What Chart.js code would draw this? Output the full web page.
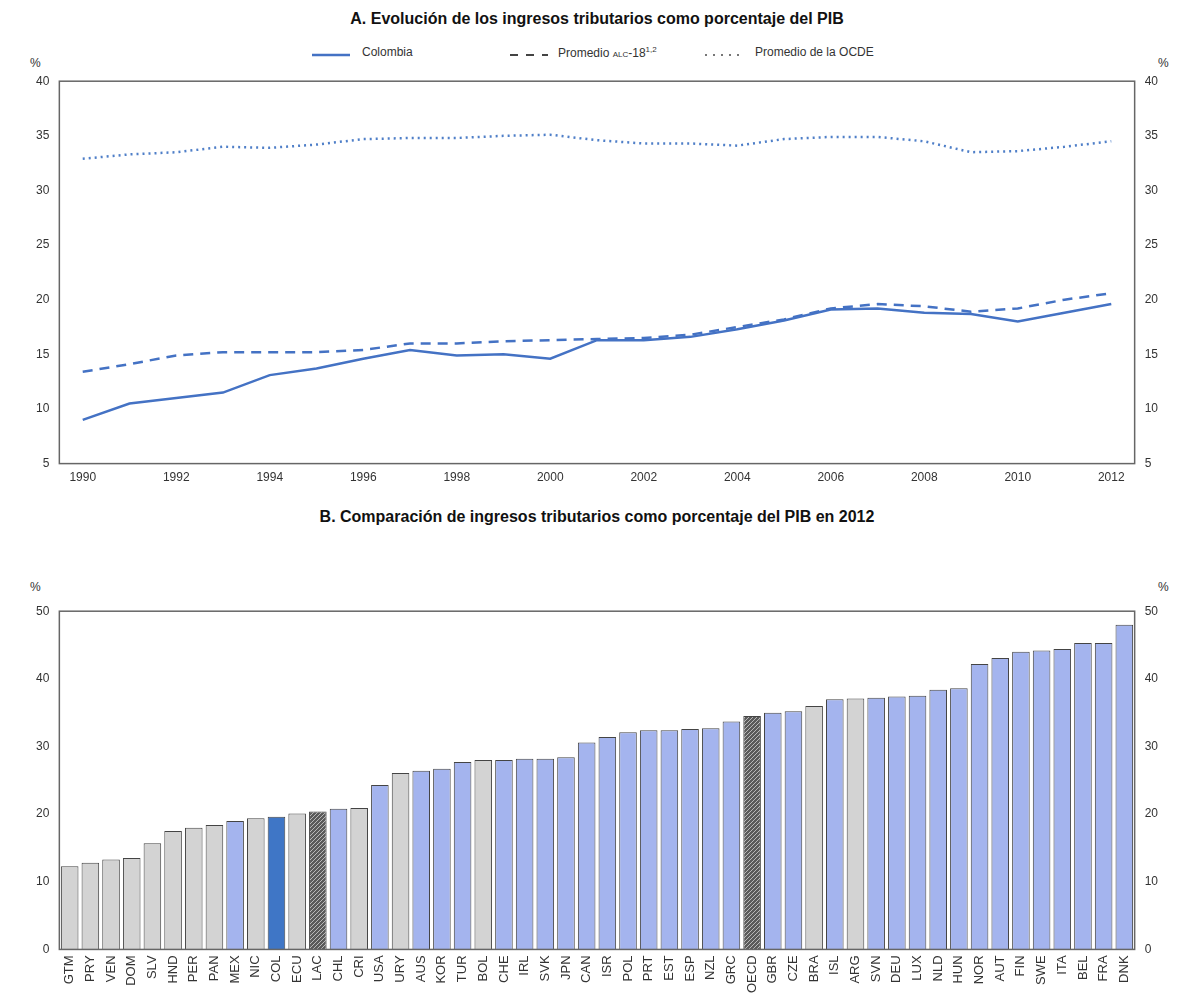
<!DOCTYPE html>
<html>
<head>
<meta charset="utf-8">
<script src="https://cdn.jsdelivr.net/npm/chart.js@4/dist/chart.umd.min.js"></script>
<style>
  body { margin: 0; background: #fff; font-family: "Liberation Sans", Arial, sans-serif; }
  .title { position: absolute; left: 0; width: 1194px; text-align: center; font-weight: bold; font-size: 16px; color: #111; }
  .legend { position: absolute; top: 48px; left: 0; width: 1194px; font-size: 12px; color: #333; }
  .legend span { position: absolute; white-space: nowrap; }
  .pct { position: absolute; font-size: 12px; color: #333; }
  canvas { position: absolute; left: 0; }
</style>
</head>
<body>
<div class="title" style="top:10px">A. Evolución de los ingresos tributarios como porcentaje del PIB</div>
<div class="legend">
  <span style="left:312px"><svg width="38" height="8"><line x1="0" y1="4" x2="38" y2="4" stroke="#4472c4" stroke-width="2.5"/></svg></span>
  <span style="left:362px;top:-3px">Colombia</span>
  <span style="left:510px"><svg width="38" height="8"><line x1="0" y1="4" x2="38" y2="4" stroke="#444" stroke-width="2" stroke-dasharray="8,8"/></svg></span>
  <span style="left:558px;top:-3px">Promedio <small style="font-size:8px">ALC</small>-18<sup style="font-size:8px">1,2</sup></span>
  <span style="left:705px"><svg width="38" height="8"><line x1="0" y1="4" x2="38" y2="4" stroke="#777" stroke-width="2" stroke-dasharray="2,6"/></svg></span>
  <span style="left:755px;top:-3px">Promedio de la OCDE</span>
</div>
<div class="pct" style="left:30px;top:56px">%</div>
<div class="pct" style="left:1158px;top:56px">%</div>
<div class="title" style="top:508px">B. Comparación de ingresos tributarios como porcentaje del PIB en 2012</div>
<div class="pct" style="left:30px;top:580px">%</div>
<div class="pct" style="left:1158px;top:580px">%</div>
<canvas id="lineChart" width="1194" height="420" style="top:68px"></canvas>
<canvas id="barChart" width="1194" height="398" style="top:598px"></canvas>
<script>
const years = ['1990','1991','1992','1993','1994','1995','1996','1997','1998','1999','2000','2001','2002','2003','2004','2005','2006','2007','2008','2009','2010','2011','2012'];
const colombia = [9.0, 10.5, 11.0, 11.5, 13.1, 13.7, 14.6, 15.4, 14.9, 15.0, 14.6, 16.3, 16.3, 16.6, 17.3, 18.1, 19.1, 19.2, 18.8, 18.7, 18.0, 18.8, 19.6];
const lac18 = [13.4, 14.1, 14.9, 15.2, 15.2, 15.2, 15.4, 16.0, 16.0, 16.2, 16.3, 16.4, 16.5, 16.8, 17.5, 18.2, 19.2, 19.6, 19.4, 18.9, 19.2, 20.0, 20.6];
const oecdAvg = [32.9, 33.3, 33.5, 34.0, 33.9, 34.2, 34.7, 34.8, 34.8, 35.0, 35.1, 34.6, 34.3, 34.3, 34.1, 34.7, 34.9, 34.9, 34.5, 33.5, 33.6, 34.0, 34.5];
const lineTicks = [5, 10, 15, 20, 25, 30, 35, 40];

const countries = ['GTM','PRY','VEN','DOM','SLV','HND','PER','PAN','MEX','NIC','COL','ECU','LAC','CHL','CRI','USA','URY','AUS','KOR','TUR','BOL','CHE','IRL','SVK','JPN','CAN','ISR','POL','PRT','EST','ESP','NZL','GRC','OECD','GBR','CZE','BRA','ISL','ARG','SVN','DEU','LUX','NLD','HUN','NOR','AUT','FIN','SWE','ITA','BEL','FRA','DNK'];
const revenue2012 = [12.3, 12.8, 13.3, 13.5, 15.7, 17.5, 18.0, 18.4, 19.0, 19.4, 19.6, 20.1, 20.4, 20.8, 20.9, 24.3, 26.1, 26.4, 26.7, 27.7, 28.0, 28.0, 28.2, 28.2, 28.4, 30.6, 31.4, 32.1, 32.4, 32.4, 32.6, 32.7, 33.7, 34.5, 35.0, 35.2, 36.0, 37.0, 37.1, 37.2, 37.4, 37.5, 38.4, 38.6, 42.2, 43.1, 44.0, 44.2, 44.4, 45.3, 45.3, 48.0];
const latam = ['GTM','PRY','VEN','DOM','SLV','HND','PER','PAN','NIC','ECU','CRI','URY','BOL','BRA','ARG'];
const barTicks = [0, 10, 20, 30, 40, 50];

Chart.defaults.font.family = '"Liberation Sans", Arial, sans-serif';
Chart.defaults.font.size = 12;
Chart.defaults.color = '#333';

// grey box round the plot area
const frame = {
  id: 'frame',
  afterDatasetsDraw(chart) {
    const a = chart.chartArea, c = chart.ctx;
    c.save();
    c.strokeStyle = '#666';
    c.lineWidth = 1.5;
    c.strokeRect(a.left, a.top, a.right - a.left, a.bottom - a.top);
    c.restore();
  }
};

function yAxis(pos, min, max, ticks) {
  return {
    position: pos, min: min, max: max,
    afterBuildTicks: s => { s.ticks = ticks.map(v => ({ value: v })); },
    grid: { display: false, drawTicks: true, tickLength: 4 },
    border: { display: false },
    ticks: { color: '#333', padding: 6, autoSkip: false }
  };
}

new Chart(document.getElementById('lineChart'), {
  type: 'line',
  data: {
    labels: years,
    datasets: [
      { data: colombia, borderColor: '#4472c4', borderWidth: 2.5, pointRadius: 0, tension: 0 },
      { data: lac18, borderColor: '#4472c4', borderWidth: 2.5, borderDash: [10, 7], pointRadius: 0 },
      { data: oecdAvg, borderColor: '#4f7fc8', borderWidth: 2.5, borderDash: [2, 4], pointRadius: 0 }
    ]
  },
  options: {
    responsive: false, animation: false,
    layout: { padding: { left: 30, right: 30, top: 8 } },
    plugins: { legend: { display: false }, tooltip: { enabled: false } },
    scales: {
      x: {
        offset: true,
        grid: { display: false, tickLength: 4 },
        border: { display: false },
        ticks: { autoSkip: false, maxRotation: 0, color: '#333', callback: (v, i) => i % 2 === 0 ? years[i] : '' }
      },
      y: yAxis('left', 5, 40, lineTicks),
      y2: yAxis('right', 5, 40, lineTicks)
    }
  },
  plugins: [frame]
});

function hatch(bg) {
  const p = document.createElement('canvas');
  p.width = 4; p.height = 4;
  const c = p.getContext('2d');
  c.fillStyle = bg; c.fillRect(0, 0, 4, 4);
  c.strokeStyle = '#d0d0d0'; c.lineWidth = 0.8;
  c.beginPath(); c.moveTo(0, 4); c.lineTo(4, 0); c.stroke();
  return c.createPattern(p, 'repeat');
}
const hatchFill = hatch('#5a5a5a');

const barColors = countries.map(c => {
  if (c === 'COL') return '#3f76c6';
  if (c === 'LAC' || c === 'OECD') return hatchFill;
  if (latam.includes(c)) return '#d3d3d3';
  return '#a4b4ee';
});

new Chart(document.getElementById('barChart'), {
  type: 'bar',
  data: {
    labels: countries,
    datasets: [{ data: revenue2012, backgroundColor: barColors, borderColor: '#444', borderWidth: 1, categoryPercentage: 1, barPercentage: 0.85 }]
  },
  options: {
    responsive: false, animation: false,
    layout: { padding: { left: 30, right: 30, top: 12 } },
    plugins: { legend: { display: false }, tooltip: { enabled: false } },
    scales: {
      x: {
        grid: { display: false, tickLength: 3 },
        border: { display: false },
        ticks: { autoSkip: false, minRotation: 90, maxRotation: 90, color: '#333', font: { size: 13 } }
      },
      y: yAxis('left', 0, 50, barTicks),
      y2: yAxis('right', 0, 50, barTicks)
    }
  },
  plugins: [frame]
});
</script>
</body>
</html>
